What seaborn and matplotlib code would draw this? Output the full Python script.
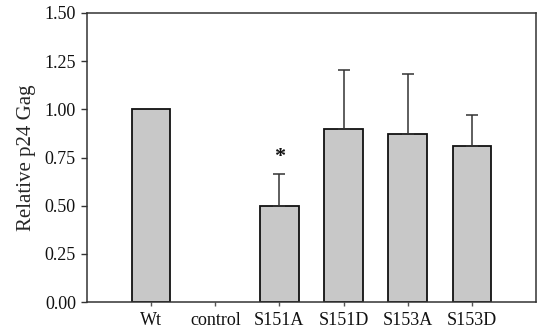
import numpy as np
import pandas as pd
import matplotlib
matplotlib.use('Agg')
import matplotlib.pyplot as plt
import seaborn as sns

sns.set_theme(style='white')
plt.rcParams['font.family'] = ['Liberation Serif', 'DejaVu Serif']

#values
groups = ['Wt', 'control', 'S151A', 'S151D', 'S153A', 'S153D']
means = [1.00, np.nan, 0.50, 0.90, 0.87, 0.81]
sem = [0.0, np.nan, 0.165, 0.305, 0.315, 0.16]
yticks = [0.00, 0.25, 0.50, 0.75, 1.00, 1.25, 1.50]

df = pd.DataFrame({'group': groups, 'value': means, 'err': sem})

fig = plt.figure(figsize=(5.37, 3.32), dpi=100)
ax = fig.add_axes([0.162, 0.090, 0.836, 0.871])

sns.barplot(data=df, x='group', y='value', order=groups, errorbar=None,
            color='#c8c8c8', saturation=1, edgecolor='#111111', linewidth=1.3,
            width=0.6, ax=ax)

#upper error bars only
has_err = df['err'].fillna(0) > 0
xpos = np.arange(len(groups))[has_err.values]
ax.errorbar(xpos, df['value'][has_err], yerr=[np.zeros(has_err.sum()), df['err'][has_err]],
            fmt='none', ecolor='#333333', elinewidth=1.1, capsize=4, capthick=1.1)

#significance mark
ax.text(2, 0.70, '*', ha='center', va='bottom', fontsize=16, fontweight='bold', color='#111111')

ax.set_xlim(-1, 6)
ax.set_ylim(0, 1.5)
ax.set_yticks(yticks)
ax.set_yticklabels([f'{t:.2f}' for t in yticks])
ax.set_xlabel('')
ax.set_ylabel('Relative p24 Gag', fontsize=15, labelpad=6)
ax.tick_params(axis='both', which='major', labelsize=13, colors='#111111', direction='out', bottom=True, left=True)
ax.tick_params(axis='y', length=4, width=1, color='#333333', pad=4)
ax.tick_params(axis='x', length=3, width=1, color='#555555', pad=4)
for s in ax.spines.values():
    s.set_visible(True)
    s.set_color('#333333')
    s.set_linewidth(1.1)

fig.savefig('out.png', dpi=100)
